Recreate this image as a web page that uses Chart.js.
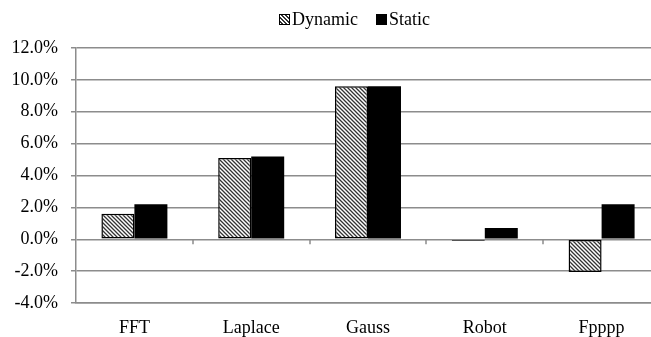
<!DOCTYPE html>
<html>
<head>
<meta charset="utf-8">
<script src="https://cdn.jsdelivr.net/npm/chart.js@4/dist/chart.umd.min.js"></script>
<style>
  html, body { margin: 0; padding: 0; background: #fff; overflow: hidden; }
  #wrap { position: relative; width: 663px; height: 337px; }
  #legend {
    position: absolute; top: 8px; left: 279px;
    font: 18px 'Liberation Serif', 'Times New Roman', serif; color: #000;
    display: flex; align-items: center; white-space: nowrap; line-height: 22px;
  }
  #legend .box { display: inline-block; width: 11px; height: 11px; margin-right: 2px; box-sizing: border-box; }
  #legend .dyn { border: 1.5px solid #000;
    background: repeating-linear-gradient(45deg, #fff 0 1.4px, #333 1.4px 2.8px); }
  #legend .sta { background: #000; margin-left: 18px; }
</style>
</head>
<body>
<div id="wrap">
  <canvas id="chart"></canvas>
  <div id="legend"><span class="box dyn"></span>Dynamic<span class="box sta"></span>Static</div>
</div>
<script>
const categories = ["FFT", "Laplace", "Gauss", "Robot", "Fpppp"];
const dynamic_values = [1.6, 5.1, 9.6, -0.1, -2.05];
const static_values = [2.2, 5.2, 9.6, 0.7, 2.2];
const y_min = -4, y_max = 12, y_step = 2;

// diagonal hatch like the excel "wide downward diagonal"
function hatch() {
    const c = document.createElement("canvas");
    c.width = 4; c.height = 4;
    const ctx = c.getContext("2d");
    ctx.fillStyle = "#fff";
    ctx.fillRect(0, 0, 4, 4);
    ctx.strokeStyle = "#333";
    ctx.lineWidth = 1.3;
    ctx.beginPath();
    ctx.moveTo(-1, -1); ctx.lineTo(5, 5);
    ctx.moveTo(-3, 1); ctx.lineTo(3, 7);
    ctx.moveTo(1, -3); ctx.lineTo(7, 3);
    ctx.stroke();
    return ctx.createPattern(c, "repeat");
}

const font = { family: "'Liberation Serif', 'Times New Roman', serif", size: 18 };
const gray = "#8c8c8c";

// small tick marks between categories on the zero line
const zeroTicks = {
    id: "zeroTicks",
    afterDatasetsDraw(chart) {
        const x = chart.scales.x, y = chart.scales.y;
        const ctx = chart.ctx;
        const y0 = y.getPixelForValue(0);
        ctx.save();
        ctx.strokeStyle = gray;
        ctx.lineWidth = 1.5;
        ctx.beginPath();
        for (let i = 1; i < categories.length; i++) {
            const px = Math.round((x.getPixelForValue(i - 1) + x.getPixelForValue(i)) / 2);
            ctx.moveTo(px, y0);
            ctx.lineTo(px, y0 + 5);
        }
        ctx.stroke();
        ctx.restore();
    }
};

new Chart("chart", {
    type: "bar",
    data: {
        labels: categories,
        datasets: [{
            label: "Dynamic",
            data: dynamic_values,
            backgroundColor: hatch(),
            borderColor: "#000",
            borderWidth: 1.5,
            borderSkipped: false
        }, {
            label: "Static",
            data: static_values,
            backgroundColor: "#000",
            borderColor: "#000",
            borderWidth: 0
        }]
    },
    plugins: [zeroTicks],
    options: {
        responsive: true,
        maintainAspectRatio: false,
        animation: false,
        layout: { padding: { left: 3, right: 3, top: 48, bottom: 0 } },
        datasets: {
            bar: { categoryPercentage: 0.565, barPercentage: 1 }
        },
        plugins: {
            legend: { display: false },
            tooltip: { enabled: false }
        },
        scales: {
            x: {
                grid: { display: false },
                border: { color: gray, width: 1.5 },
                ticks: { font: font, color: "#000", padding: 6 },
                afterFit: (s) => { s.height = 34; }
            },
            y: {
                min: y_min,
                max: y_max,
                ticks: {
                    stepSize: y_step,
                    font: font,
                    color: "#000",
                    padding: 13,
                    callback: (v) => v.toFixed(1) + "%"
                },
                grid: { color: gray, lineWidth: 1.5, tickLength: 5 },
                border: { color: gray, width: 1.5 },
                afterFit: (s) => { s.width = 73; }
            }
        }
    }
});
</script>
</body>
</html>
